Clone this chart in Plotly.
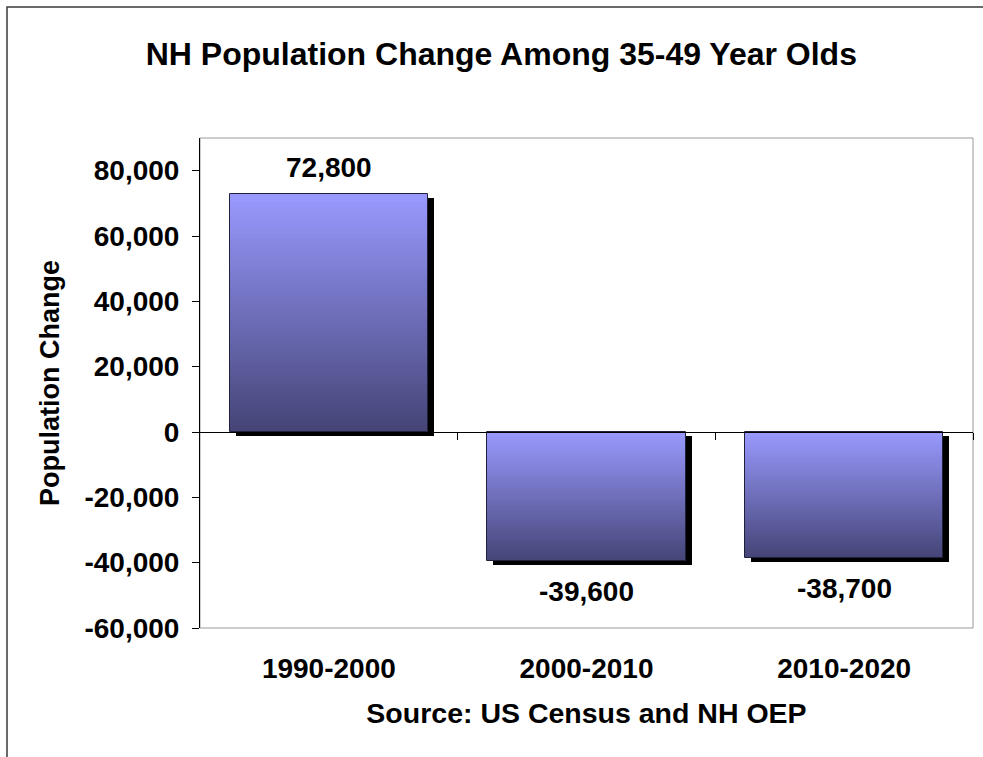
import plotly.graph_objects as go

# Data
periods = ["1990-2000", "2000-2010", "2010-2020"]
pop_change = [72800, -39600, -38700]
y_tick_values = [-60000, -40000, -20000, 0, 20000, 40000, 60000, 80000]
y_tick_text = [f"{v:,}" for v in y_tick_values]
y_range = [-60000, 90000]

FONT = "Liberation Sans, Arial, sans-serif"
W, H = 983, 757
M_L, M_R, M_T, M_B = 200, 10, 138, 129
plot_w = W - M_L - M_R
plot_h = H - M_T - M_B

pos = list(range(len(periods)))
BAR_W = 0.77
px_x = len(periods) / plot_w                 # axis units per pixel (x)
px_y = (y_range[1] - y_range[0]) / plot_h    # axis units per pixel (y)
SHADOW_DX = 6 * px_x
SHADOW_DY = 4 * px_y

tops = [max(v, 0) for v in pop_change]
bottoms = [min(v, 0) for v in pop_change]
heights = [t - b for t, b in zip(tops, bottoms)]

TOP_RGB = (153, 153, 255)
BOT_RGB = (68, 68, 118)
N_STEPS = 60

fig = go.Figure()

# drop shadow behind each bar
fig.add_trace(go.Bar(
    x=pos, y=heights, base=[b - SHADOW_DY for b in bottoms],
    width=BAR_W, offset=-BAR_W / 2 + SHADOW_DX,
    marker=dict(color="black", line=dict(width=0)),
    hoverinfo="skip", showlegend=False,
))

# vertical gradient fill: light at the top of each bar, dark at the bottom
for k in range(N_STEPS):
    f = (k + 0.5) / N_STEPS
    rgb = tuple(round(a + (b - a) * f) for a, b in zip(TOP_RGB, BOT_RGB))
    starts = [t - h * k / N_STEPS for t, h in zip(tops, heights)]
    fig.add_trace(go.Bar(
        x=pos, y=[s - b for s, b in zip(starts, bottoms)], base=bottoms,
        width=BAR_W,
        marker=dict(color="rgb(%d,%d,%d)" % rgb, line=dict(width=0)),
        hoverinfo="skip", showlegend=False,
    ))

# bar outlines
fig.add_trace(go.Bar(
    x=pos, y=heights, base=bottoms, width=BAR_W,
    marker=dict(color="rgba(0,0,0,0)", line=dict(color="#20203a", width=1)),
    hoverinfo="skip", showlegend=False,
))

# helper trace so the axis through zero is drawn
fig.add_trace(go.Scatter(
    x=pos, y=pop_change, xaxis="x2", mode="markers",
    marker=dict(opacity=0), hoverinfo="skip", showlegend=False,
))

# value labels
for p, v in zip(pos, pop_change):
    fig.add_annotation(
        x=p, y=v, text=f"{v:,}", showarrow=False,
        yshift=27 if v >= 0 else -30,
        font=dict(family=FONT, size=28, color="black", weight="bold"),
    )

zero_pos = (0 - y_range[0]) / (y_range[1] - y_range[0])

fig.update_layout(
    width=W, height=H,
    margin=dict(l=M_L, r=M_R, t=M_T, b=M_B),
    paper_bgcolor="white", plot_bgcolor="white",
    barmode="overlay", bargap=0,
    showlegend=False,
    title=dict(
        text="NH Population Change Among 35-49 Year Olds",
        x=0.51, xref="container", xanchor="center",
        y=1 - 54 / H, yref="container", yanchor="middle",
        font=dict(family=FONT, size=32, color="black", weight="bold"),
    ),
    xaxis=dict(
        range=[-0.5, len(periods) - 0.5],
        tickvals=pos, ticktext=periods,
        ticks="", showline=False, showgrid=False, zeroline=False,
        tickfont=dict(family=FONT, size=28, color="black", weight="bold"),
        ticklabelstandoff=21,
        title=dict(text="Source: US Census and NH OEP", standoff=20,
                   font=dict(family=FONT, size=28.5, color="black", weight="bold")),
        fixedrange=True,
    ),
    xaxis2=dict(
        overlaying="x", anchor="free", position=zero_pos, side="bottom",
        range=[-0.5, len(periods) - 0.5],
        tickvals=[p + 0.5 for p in pos],
        ticks="outside", ticklen=7, tickcolor="black", tickwidth=1,
        showticklabels=False, showline=True, linecolor="black", linewidth=1,
        showgrid=False, zeroline=False, fixedrange=True,
    ),
    yaxis=dict(
        range=y_range, tickvals=y_tick_values, ticktext=y_tick_text,
        ticks="outside", ticklen=7, tickcolor="black", tickwidth=1,
        showline=True, linecolor="black", linewidth=1,
        showgrid=False, zeroline=False,
        tickfont=dict(family=FONT, size=28, color="black", weight="bold"),
        ticklabelstandoff=7,
        title=dict(text="Population Change", standoff=16,
                   font=dict(family=FONT, size=27, color="black", weight="bold")),
        fixedrange=True,
    ),
    shapes=[
        # plot area frame
        dict(type="rect", xref="paper", yref="paper", x0=0, y0=0, x1=1, y1=1,
             line=dict(color="#9a9a9a", width=1), layer="below"),
        # chart area frame
        dict(type="rect", xref="paper", yref="paper",
             x0=(7 - M_L) / plot_w, x1=(W + 10 - M_L) / plot_w,
             y0=-(H + 10 - M_T - plot_h) / plot_h, y1=(plot_h + M_T - 7) / plot_h,
             line=dict(color="#3a3a3a", width=1.5)),
    ],
)

fig.write_html("out.html")
